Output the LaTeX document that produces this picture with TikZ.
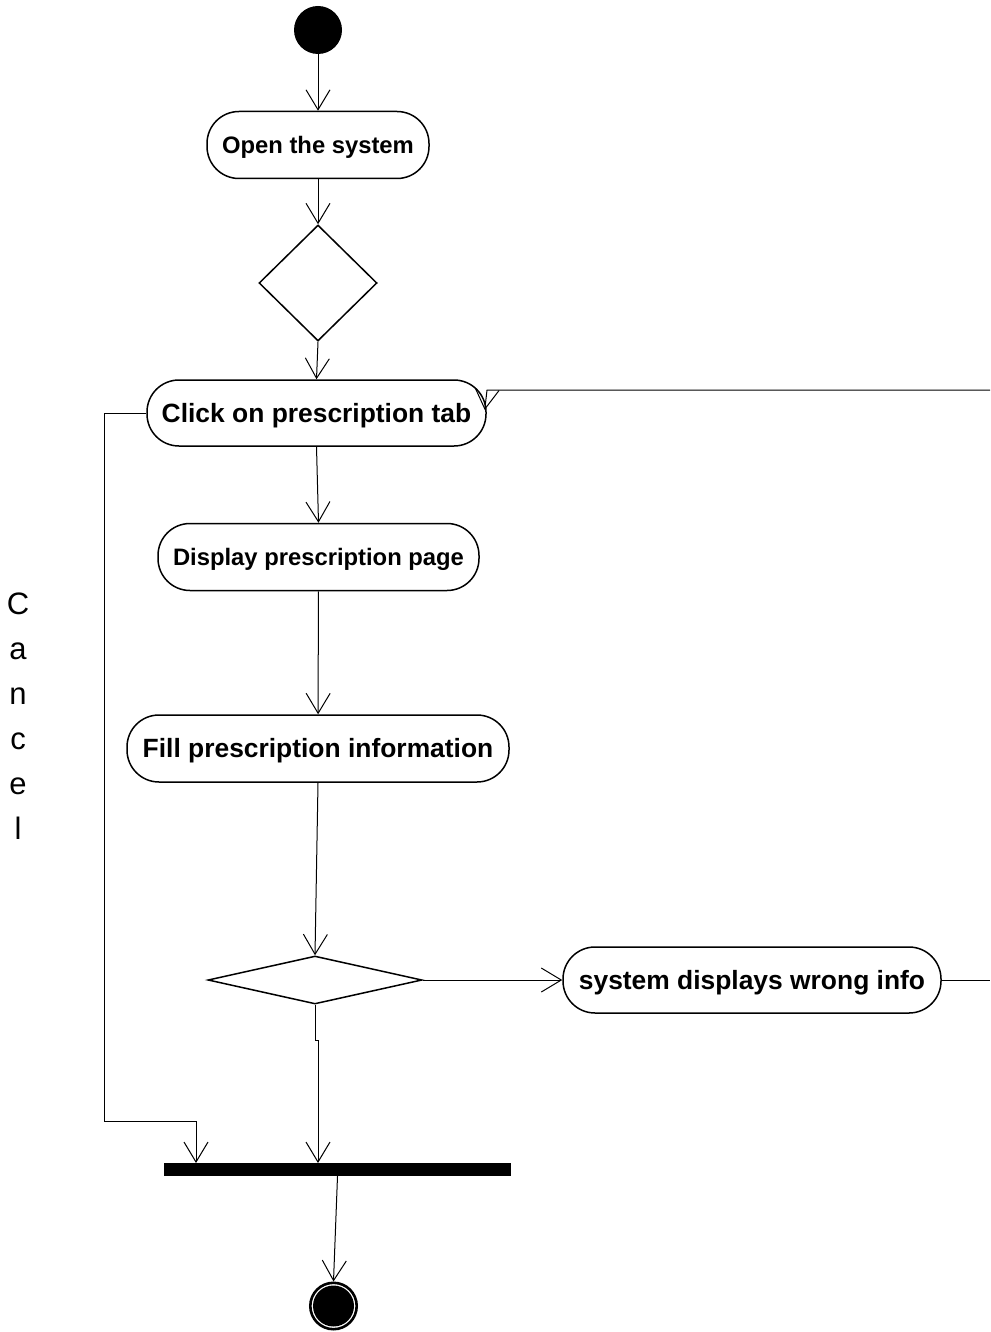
\documentclass[tikz,border=0pt]{standalone}
\usepackage{fontspec}
\setmainfont{Liberation Sans}
\usetikzlibrary{arrows.meta,shapes.geometric,calc}

\tikzset{
  act/.style={draw, line width=1.5pt, rounded corners=32pt, inner sep=0pt,
              minimum height=67pt, text height=18.9pt, text depth=0pt,
              font=\bfseries\fontsize{26.4}{30}\selectfont},
  actsmall/.style={act, text height=17pt, font=\bfseries\fontsize{23.8}{28}\selectfont},
  decision/.style={draw, diamond, line width=1.5pt, inner sep=0pt},
  arr/.style={line width=1pt, -{Straight Barb[length=20pt,width=24pt,line width=1pt]}},
  flow/.style={line width=1pt},
}

\begin{document}
\begin{tikzpicture}[x=1pt, y=-1pt]
  \useasboundingbox (0,0) rectangle (990,1332);

  % start and end states
  \node[circle, fill=black, minimum size=48pt, inner sep=0pt] (start) at (318,30) {};
  \node[circle, draw, line width=2.6pt, minimum size=46.4pt, inner sep=0pt] (end) at (333.5,1306) {};
  \node[circle, fill=black, minimum size=41pt, inner sep=0pt] (endcore) at (333.5,1306) {};

  % activities
  \node[actsmall, minimum width=222pt] (open) at (318,145) {Open the system};
  \node[decision, minimum width=118pt, minimum height=116pt] (d1) at (318,283) {};
  \node[act, minimum width=339pt, minimum height=66pt] (click) at (316.5,413) {Click on prescription tab};
  \node[actsmall, minimum width=321pt] (display) at (318.5,557) {Display prescription page};
  \node[act, minimum width=382pt] (fill) at (318,748.5) {Fill prescription information};
  \node[decision, minimum width=214pt, minimum height=48pt] (d2) at (315,980) {};
  \node[act, minimum width=378pt, minimum height=66pt] (wrong) at (752,980) {system displays wrong info};

  % synchronisation bar
  \node[rectangle, fill=black, minimum width=347pt, minimum height=13pt, inner sep=0pt] (bar) at (337.5,1169.5) {};

  % vertical guard label
  \node[align=center, font=\fontsize{31}{45}\selectfont, inner sep=0pt] (cancel) at (18,716)
    {C\\a\\n\\c\\e\\l};

  % routing points
  \coordinate (r1) at (990,390);
  \coordinate (r1b) at (487,390);
  \coordinate (r2) at (990,980);
  \coordinate (c1) at (104,413);
  \coordinate (c2) at (104,1121);
  \coordinate (c3) at (196,1121);
  \coordinate (c4) at (196,1163);
  \coordinate (w1) at (457,980);
  \coordinate (j1) at (315,1040);
  \coordinate (j2) at (318,1040);
  \coordinate (j3) at (318,1163);

  % flows
  \draw[arr] (start) -- (open);
  \draw[arr] (open) -- (d1);
  \draw[arr] (d1.south) -- (click.north);
  \draw[arr] (click.south) -- (display.north);
  \draw[arr] (display) -- (fill);
  \draw[arr] (fill.south) -- (d2.north);
  \draw[arr] (d2.east) -- (w1) -- (wrong.west);
  \draw[flow] (wrong.east) -- (r2);
  \draw[arr] (r1) -- (r1b) -- ($(click.east)+(-2,-3)$);
  \draw[arr] (click.west) -- (c1) -- (c2) -- (c3) -- (c4);
  \draw[arr] (d2.south) -- (j1) -- (j2) -- (j3);
  \draw[arr] (bar.south) -- (end.north);
\end{tikzpicture}
\end{document}
